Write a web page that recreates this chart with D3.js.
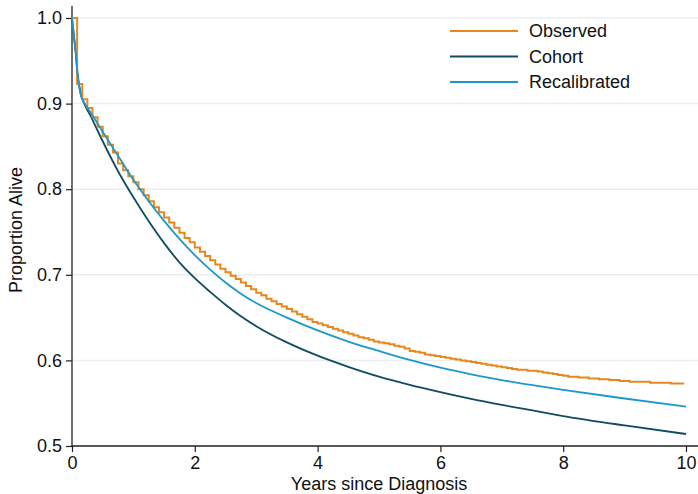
<!DOCTYPE html>
<html>
<head>
<meta charset="utf-8">
<script src="https://cdn.jsdelivr.net/npm/d3@7"></script>
<style>
  body { margin: 0; background: #fff; }
  svg { display: block; font-family: "Liberation Sans", Arial, sans-serif; }
</style>
</head>
<body>
<svg></svg>
<script>
let width = 698, height = 494;

// observed KM estimate, one value per month (month 0..120)
const obsMonths = d3.range(0, 121);
const observed = [
  1.000, 0.923, 0.905, 0.895, 0.884, 0.873, 0.862, 0.852, 0.843, 0.830,
  0.822, 0.815, 0.808, 0.800, 0.793, 0.786, 0.779, 0.773, 0.767, 0.761,
  0.755, 0.749, 0.743, 0.738, 0.732, 0.727, 0.722, 0.717, 0.712, 0.707,
  0.703, 0.699, 0.695, 0.691, 0.687, 0.683, 0.679, 0.676, 0.672, 0.669,
  0.666, 0.663, 0.660, 0.657, 0.654, 0.651, 0.648, 0.645, 0.643, 0.641,
  0.639, 0.637, 0.635, 0.633, 0.631, 0.629, 0.627, 0.626, 0.624, 0.622,
  0.621, 0.620, 0.619, 0.617, 0.616, 0.614, 0.611, 0.610, 0.609, 0.607,
  0.606, 0.605, 0.604, 0.603, 0.602, 0.601, 0.600, 0.599, 0.598, 0.597,
  0.596, 0.595, 0.594, 0.593, 0.592, 0.591, 0.590, 0.589, 0.589, 0.588,
  0.588, 0.587, 0.586, 0.585, 0.584, 0.583, 0.582, 0.581, 0.581, 0.580,
  0.580, 0.579, 0.579, 0.578, 0.578, 0.577, 0.577, 0.576, 0.576, 0.575,
  0.575, 0.575, 0.575, 0.574, 0.574, 0.574, 0.574, 0.573, 0.573, 0.573,
  0.573
];

// model curves
const cohortYears = [0, 0.03, 0.06, 0.09, 0.14, 0.2, 0.3, 0.5, 0.75, 1, 1.25, 1.5, 1.75, 2, 2.25, 2.5, 2.75, 3, 3.5, 4, 4.5, 5, 5.5, 6, 6.5, 7, 7.5, 8, 9, 10];
const cohort = [1.0, 0.98, 0.96, 0.935, 0.912, 0.900, 0.886, 0.856, 0.821, 0.7905, 0.7625, 0.737, 0.7145, 0.696, 0.680, 0.665, 0.6515, 0.640, 0.621, 0.6055, 0.5925, 0.581, 0.5715, 0.563, 0.555, 0.548, 0.5415, 0.535, 0.524, 0.514];

const recalYears = [0, 0.03, 0.06, 0.09, 0.14, 0.2, 0.3, 0.5, 0.75, 1, 1.25, 1.5, 1.75, 2, 2.25, 2.5, 2.75, 3, 3.5, 4, 4.5, 5, 5.5, 6, 6.5, 7, 7.5, 8, 9, 10];
const recalibrated = [1.0, 0.98, 0.96, 0.935, 0.911, 0.901, 0.890, 0.867, 0.839, 0.811, 0.786, 0.763, 0.742, 0.723, 0.706, 0.691, 0.678, 0.667, 0.650, 0.635, 0.622, 0.611, 0.6005, 0.5915, 0.5838, 0.577, 0.571, 0.5655, 0.5555, 0.546];

const xTicks = [0, 2, 4, 6, 8, 10];
const yTicks = [0.5, 0.6, 0.7, 0.8, 0.9, 1.0];
const legendNames = ["Observed", "Cohort", "Recalibrated"];
const colors = ["#e8871e", "#0f4c62", "#1b98cc"];

let svg = d3.select("svg").attr("width", width).attr("height", height);

let x = d3.scaleLinear().domain([0, 10]).range([72, 686]);
let y = d3.scaleLinear().domain([0.5, 1.0]).range([446, 18]);

// gridlines
svg.append("g")
  .selectAll("line")
  .data(yTicks.filter(d => d > 0.5))
  .enter()
  .append("line")
  .attr("x1", 72).attr("x2", 698)
  .attr("y1", d => y(d)).attr("y2", d => y(d))
  .attr("stroke", "#e8f0f2")
  .attr("stroke-width", 1.5);

// axes
let yAxis = svg.append("g")
  .attr("transform", "translate(72,0)")
  .call(d3.axisLeft(y).tickValues(yTicks).tickFormat(d3.format(".1f")).tickSize(6).tickPadding(4));
let xAxis = svg.append("g")
  .attr("transform", "translate(0,446)")
  .call(d3.axisBottom(x).tickValues(xTicks).tickFormat(d3.format("d")).tickSize(6).tickPadding(4));

[xAxis, yAxis].forEach(a => {
  a.select(".domain").remove();
  a.selectAll("line").attr("stroke", "#222").attr("stroke-width", 1.2);
  a.selectAll("text").attr("fill", "#111").style("font-size", "18px");
});

svg.append("line").attr("x1", 72).attr("x2", 72).attr("y1", 6).attr("y2", 446.5)
  .attr("stroke", "#222").attr("stroke-width", 1.3);
svg.append("line").attr("x1", 71.5).attr("x2", 698).attr("y1", 446).attr("y2", 446)
  .attr("stroke", "#222").attr("stroke-width", 1.3);

// titles
svg.append("text")
  .attr("x", 379).attr("y", 490)
  .attr("text-anchor", "middle")
  .style("font-size", "18px").attr("fill", "#111")
  .text("Years since Diagnosis");
svg.append("text")
  .attr("transform", "translate(22,230) rotate(-90)")
  .attr("text-anchor", "middle")
  .style("font-size", "18px").attr("fill", "#111")
  .text("Proportion Alive");

// curves
let smooth = d3.line().x(d => x(d[0])).y(d => y(d[1])).curve(d3.curveMonotoneX);
let step = d3.line().x(d => x(d[0])).y(d => y(d[1])).curve(d3.curveStepAfter);

svg.append("path")
  .datum(cohortYears.map((t, i) => [t, cohort[i]]))
  .attr("d", smooth)
  .attr("fill", "none").attr("stroke", colors[1]).attr("stroke-width", 1.8);

svg.append("path")
  .datum(obsMonths.map((m, i) => [Math.min(m / 12, 9.97), observed[i]]))
  .attr("d", step)
  .attr("fill", "none").attr("stroke", colors[0]).attr("stroke-width", 2);

svg.append("path")
  .datum(recalYears.map((t, i) => [t, recalibrated[i]]))
  .attr("d", smooth)
  .attr("fill", "none").attr("stroke", colors[2]).attr("stroke-width", 1.8);

// legend
let legend = svg.append("g").attr("class", "legend");
let items = legend.selectAll("g")
  .data(legendNames)
  .enter()
  .append("g")
  .attr("transform", (d, i) => "translate(450," + (31 + i * 25.5) + ")");
items.append("line")
  .attr("x1", 0).attr("x2", 68)
  .attr("stroke", (d, i) => colors[i]).attr("stroke-width", 1.8);
items.append("text")
  .attr("x", 79).attr("dy", "0.35em")
  .style("font-size", "18px").attr("fill", "#111")
  .text(d => d);
</script>
</body>
</html>
